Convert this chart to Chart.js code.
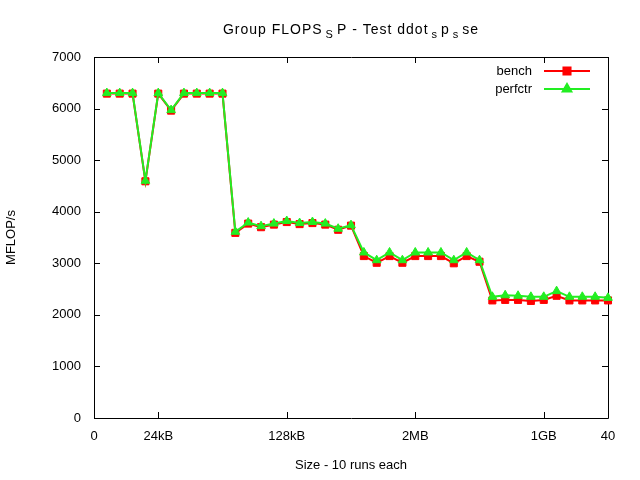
<!DOCTYPE html>
<html>
<head>
<meta charset="utf-8">
<script src="https://cdn.jsdelivr.net/npm/chart.js@4.4.1/dist/chart.umd.min.js"></script>
<style>
  html, body { margin: 0; padding: 0; background: #fff; }
</style>
</head>
<body>
<canvas id="c" width="640" height="480"></canvas>
<script>
// x = run index (1..40)
const xs = [1, 2, 3, 4, 5, 6, 7, 8, 9, 10, 11, 12, 13, 14, 15, 16, 17, 18, 19, 20,
            21, 22, 23, 24, 25, 26, 27, 28, 29, 30, 31, 32, 33, 34, 35, 36, 37, 38, 39, 40];

const bench = [6290, 6290, 6290, 4590, 6290, 5960, 6290, 6290, 6290, 6290,
               3590, 3770, 3700, 3750, 3800, 3760, 3780, 3750, 3650, 3730,
               3140, 3010, 3140, 3010, 3140, 3140, 3140, 3000, 3140, 3030,
               2280, 2290, 2290, 2270, 2290, 2370, 2280, 2280, 2280, 2280];

const perfctr = [6300, 6300, 6300, 4600, 6300, 5970, 6300, 6300, 6300, 6300,
                 3610, 3790, 3720, 3770, 3820, 3780, 3800, 3770, 3670, 3740,
                 3210, 3060, 3210, 3060, 3210, 3210, 3210, 3060, 3210, 3060,
                 2350, 2380, 2370, 2350, 2350, 2460, 2350, 2350, 2350, 2330];

const xTickValues = [0, 5, 15, 25, 35, 40];
const xTickLabels = ["0", "24kB", "128kB", "2MB", "1GB", "40"];

// titre gnuplot "enhanced" : [texte, indice ?]
const titleParts = [
  ["Group FLOPS", false], ["S", true], ["P - Test ddot", false],
  ["s", true], ["p", false], ["s", true], ["se", false],
];

const FONT = "'Liberation Sans', Arial, sans-serif";
const RED = "#ff0000";
const GREEN = "#22ee22";

const toPts = arr => xs.map((x, i) => ({ x, y: arr[i] }));

// cadre + graduations intérieures, façon gnuplot
const frame = {
  id: "frame",
  beforeDatasetsDraw(chart) {
    const { ctx, chartArea: a, scales: { x, y } } = chart;
    ctx.save();
    ctx.strokeStyle = "#000";
    ctx.lineWidth = 1;
    ctx.beginPath();
    ctx.rect(a.left + 0.5, a.top + 0.5, a.right - a.left, a.bottom - a.top);
    xTickValues.forEach(v => {
      const px = Math.round(x.getPixelForValue(v)) + 0.5;
      ctx.moveTo(px, a.bottom); ctx.lineTo(px, a.bottom - 6);
      ctx.moveTo(px, a.top); ctx.lineTo(px, a.top + 6);
    });
    y.ticks.forEach(t => {
      const py = Math.round(y.getPixelForValue(t.value)) + 0.5;
      ctx.moveTo(a.left, py); ctx.lineTo(a.left + 6, py);
      ctx.moveTo(a.right, py); ctx.lineTo(a.right - 6, py);
    });
    ctx.stroke();
    ctx.restore();
  },
  afterDraw(chart) {
    const { ctx, chartArea: a } = chart;
    ctx.save();

    // titre avec indices
    const big = "14px " + FONT, small = "11px " + FONT, gap = 3;
    ctx.letterSpacing = "1px";
    let w = 0;
    titleParts.forEach(([t, sub]) => {
      ctx.font = sub ? small : big;
      w += ctx.measureText(t).width + (sub ? 2 * gap : 0);
    });
    let tx = (a.left + a.right) / 2 - w / 2;
    ctx.fillStyle = "#000";
    ctx.textBaseline = "alphabetic";
    titleParts.forEach(([t, sub]) => {
      ctx.font = sub ? small : big;
      if (sub) tx += gap;
      ctx.fillText(t, tx, sub ? 38 : 34);
      tx += ctx.measureText(t).width + (sub ? gap : 0);
    });
    ctx.letterSpacing = "0px";

    // légende en haut à droite
    const items = [["bench", RED, "rect"], ["perfctr", GREEN, "triangle"]];
    ctx.font = "13px " + FONT;
    ctx.textAlign = "right";
    ctx.textBaseline = "middle";
    items.forEach(([label, col, style], i) => {
      const ly = a.top + 14 + i * 18;
      ctx.fillStyle = "#000";
      ctx.fillText(label, a.right - 76, ly);
      ctx.strokeStyle = col;
      ctx.lineWidth = 2;
      ctx.beginPath();
      ctx.moveTo(a.right - 64, ly); ctx.lineTo(a.right - 18, ly);
      ctx.stroke();
      ctx.fillStyle = col;
      Chart.helpers.drawPoint(ctx, { pointStyle: style, radius: 5, rotation: 0, borderWidth: 1 }, a.right - 41, ly);
      ctx.fill();
    });
    ctx.restore();
  },
};

new Chart(document.getElementById("c").getContext("2d"), {
  type: "line",
  data: {
    datasets: [
      // perfctr au-dessus (order plus petit = dessiné en dernier)
      {
        label: "perfctr",
        data: toPts(perfctr),
        borderColor: GREEN,
        backgroundColor: GREEN,
        borderWidth: 2,
        pointStyle: "triangle",
        pointRadius: 5,
        pointBorderWidth: 1,
        tension: 0,
        clip: false,
        order: 0,
      },
      {
        label: "bench",
        data: toPts(bench),
        borderColor: RED,
        backgroundColor: RED,
        borderWidth: 2,
        pointStyle: "rect",
        pointRadius: 5,
        pointBorderWidth: 1,
        tension: 0,
        clip: false,
        order: 1,
      },
    ],
  },
  options: {
    responsive: false,
    animation: false,
    events: [],
    layout: { padding: { top: 57, right: 32, left: 0, bottom: 0 } },
    plugins: { legend: { display: false }, tooltip: { enabled: false }, title: { display: false } },
    scales: {
      x: {
        type: "linear",
        min: 0,
        max: 40,
        afterFit: s => { s.height = 62; },
        afterBuildTicks: s => { s.ticks = xTickValues.map(v => ({ value: v })); },
        ticks: {
          autoSkip: false,
          maxRotation: 0,
          padding: 11,
          color: "#000",
          font: { family: FONT, size: 13 },
          callback: (v, i) => xTickLabels[i],
        },
        grid: { display: false, drawTicks: false },
        border: { display: false },
        title: {
          display: true,
          text: "Size - 10 runs each",
          color: "#000",
          font: { family: FONT, size: 13 },
          padding: { top: 0, bottom: 7 },
        },
      },
      y: {
        min: 0,
        max: 7000,
        afterFit: s => { s.width = 94; },
        ticks: {
          stepSize: 1000,
          padding: 13,
          color: "#000",
          font: { family: FONT, size: 13 },
          callback: v => String(v),
        },
        grid: { display: false, drawTicks: false },
        border: { display: false },
        title: {
          display: true,
          text: "MFLOP/s",
          color: "#000",
          font: { family: FONT, size: 13 },
          padding: { top: 4, bottom: 0 },
        },
      },
    },
  },
  plugins: [frame],
});
</script>
</body>
</html>
